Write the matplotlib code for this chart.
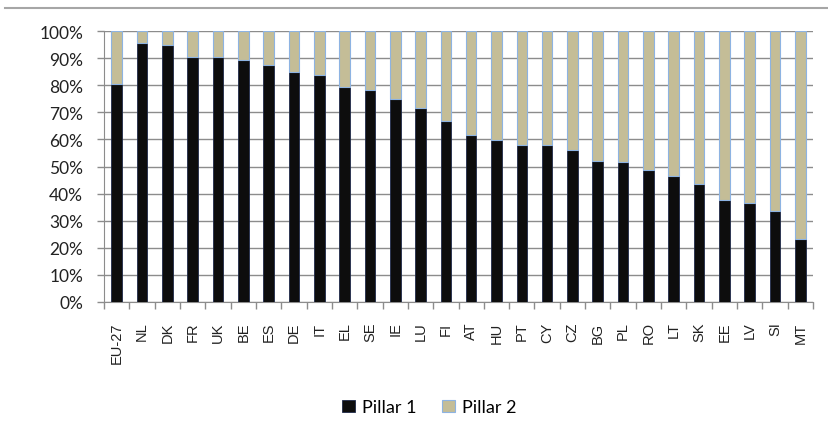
import numpy as np
import matplotlib
matplotlib.use("Agg")
import matplotlib.pyplot as plt
from matplotlib.lines import Line2D
from matplotlib.ticker import FuncFormatter, FixedLocator

countries = ['EU-27', 'NL', 'DK', 'FR', 'UK', 'BE', 'ES', 'DE', 'IT', 'EL', 'SE', 'IE', 'LU', 'FI',
             'AT', 'HU', 'PT', 'CY', 'CZ', 'BG', 'PL', 'RO', 'LT', 'SK', 'EE', 'LV', 'SI', 'MT']
pillar1 = [80.4, 95.6, 94.8, 90.4, 90.4, 89.3, 87.5, 84.9, 83.8, 79.3, 78.1, 74.8, 71.7, 66.9,
           61.6, 59.9, 58.0, 58.0, 56.1, 52.2, 51.8, 48.8, 46.6, 43.4, 37.5, 36.4, 33.7, 23.2]
pillar2 = [100 - v for v in pillar1]

fig = plt.figure(figsize=(8.29, 4.39), dpi=100)
ax = fig.add_axes([0.1255, 0.3098, 0.8552, 0.6172])

x = np.arange(len(countries))
ax.bar(x, pillar1, width=0.42, color='#0d0d0d', edgecolor='#1f2a4a', linewidth=0.6,
       label='Pillar 1', zorder=3)
ax.bar(x, pillar2, width=0.42, bottom=pillar1, color='#c4bd97', edgecolor='#8db3e2',
       linewidth=0.8, label='Pillar 2', zorder=3)

ax.set_xlim(-0.5, len(countries) - 0.5)
ax.set_ylim(0, 100)
ax.set_yticks(np.arange(0, 101, 10))
ax.yaxis.set_major_formatter(FuncFormatter(lambda v, p: '%d%%' % v))
ax.yaxis.grid(True, color='#8c8c8c', linewidth=1.0, zorder=0)

ax.set_xticks(x)
ax.set_xticklabels(countries, rotation=90, fontsize=10.5, family='Liberation Sans', color='#222222')
ax.xaxis.set_minor_locator(FixedLocator(np.arange(-0.5, len(countries), 1)))
ax.tick_params(axis='x', which='major', length=0, pad=14)
ax.tick_params(axis='x', which='minor', length=5, color='#8c8c8c', width=1)
ax.tick_params(axis='y', length=5, color='#8c8c8c', width=1, labelsize=12.5, pad=10)
for lab in ax.get_yticklabels():
    lab.set_family('Lato')
    lab.set_color('#222222')

for s in ['top', 'right']:
    ax.spines[s].set_visible(False)
ax.spines['left'].set_color('#8c8c8c')
ax.spines['bottom'].set_color('#8c8c8c')

leg = fig.legend(loc='center', bbox_to_anchor=(0.518, 0.07), ncol=2, frameon=False,
                 prop={'family': 'Lato', 'size': 13}, handlelength=0.7, handleheight=0.7,
                 handletextpad=0.4, columnspacing=1.4)

fig.add_artist(Line2D([0.006, 1.0], [0.979, 0.979], color='#a6a6a6', linewidth=1.5))

plt.savefig('out.png', dpi=100)
